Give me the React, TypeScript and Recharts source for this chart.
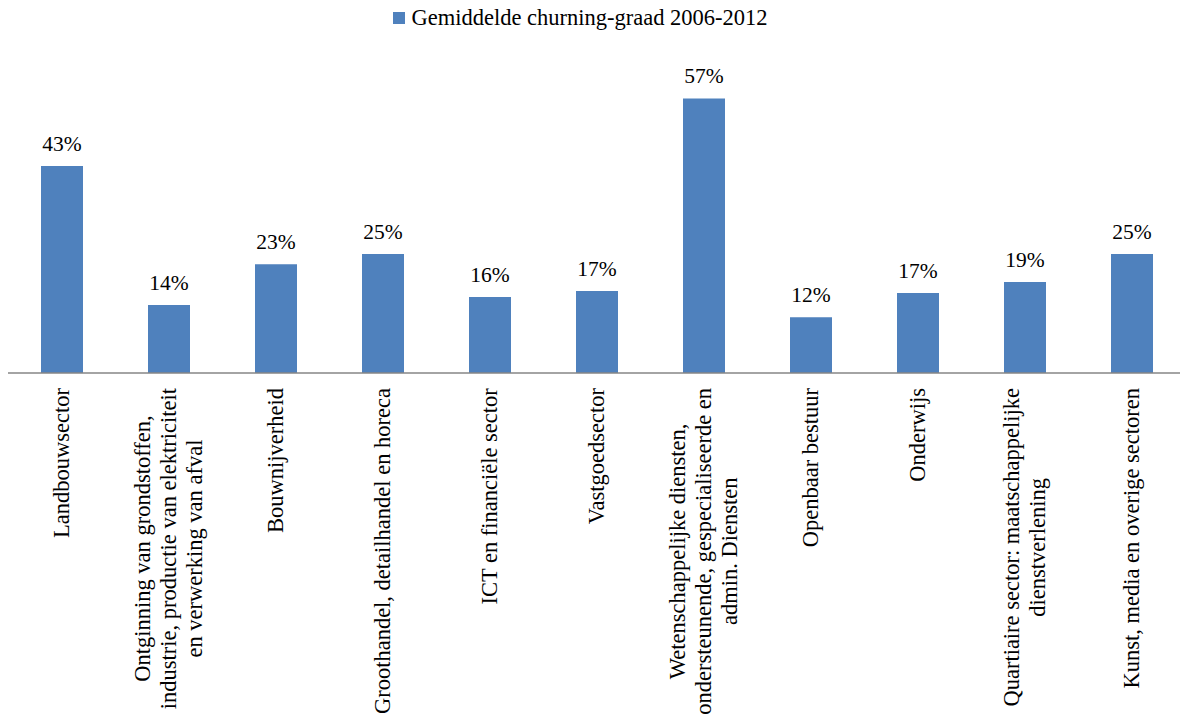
import { BarChart, Bar, XAxis, YAxis, Legend, LabelList } from "recharts";

const FONT = "'Liberation Serif', 'Times New Roman', serif";
const FONT_SIZE = 22.5;
const LABEL_SIZE = 21.5;
const BAR_COLOR = "#4f81bd";

const sectors = [
  "Landbouwsector",
  "Ontginning van grondstoffen,\nindustrie, productie van elektriciteit\nen verwerking van afval",
  "Bouwnijverheid",
  "Groothandel, detailhandel en horeca",
  "ICT en financiële sector",
  "Vastgoedsector",
  "Wetenschappelijke diensten,\nondersteunende, gespecialiseerde en\nadmin. Diensten",
  "Openbaar bestuur",
  "Onderwijs",
  "Quartiaire sector: maatschappelijke\ndienstverlening",
  "Kunst, media en overige sectoren",
];

const churnRates = [0.43, 0.141, 0.226, 0.247, 0.158, 0.17, 0.57, 0.116, 0.166, 0.189, 0.247];

const seriesName = "Gemiddelde churning-graad 2006-2012";

const data = sectors.map((sector, i) => ({ sector, churn: churnRates[i] }));

let ctx: CanvasRenderingContext2D | null = null;
const measure = (s: string) => {
  if (!ctx) ctx = document.createElement("canvas").getContext("2d");
  if (!ctx) return s.length * FONT_SIZE * 0.45;
  ctx.font = `${FONT_SIZE}px ${FONT}`;
  return ctx.measureText(s).width;
};

const SectorTick = (props: any) => {
  const { x, y, payload } = props;
  const lines: string[] = String(payload.value).split("\n");
  const blockWidth = Math.max(...lines.map(measure));
  const lineHeight = 26;
  return (
    <g transform={`translate(${x},${y}) rotate(-90)`}>
      <text textAnchor="middle" fontFamily={FONT} fontSize={FONT_SIZE} fill="#000">
        {lines.map((line, i) => (
          <tspan
            key={i}
            x={-blockWidth / 2}
            y={(i - (lines.length - 1) / 2) * lineHeight + FONT_SIZE * 0.35}
          >
            {line}
          </tspan>
        ))}
      </text>
    </g>
  );
};

const LegendBox = () => (
  <div
    style={{
      display: "flex",
      justifyContent: "center",
      alignItems: "center",
      height: 24,
      paddingRight: 19,
      fontFamily: FONT,
      fontSize: FONT_SIZE,
      color: "#000",
    }}
  >
    <span
      style={{ width: 12, height: 12, background: BAR_COLOR, marginRight: 6, display: "inline-block" }}
    />
    <span>{seriesName}</span>
  </div>
);

export default function App() {
  return (
    <div
      style={{
        position: "absolute",
        left: 0,
        top: 0,
        width: 1180,
        height: 724,
        overflow: "hidden",
        background: "#fff",
      }}
    >
      <BarChart
        width={1186}
        height={724}
        data={data}
        margin={{ top: 60, right: 1, left: 8, bottom: 0 }}
      >
        <XAxis
          dataKey="sector"
          height={351}
          interval={0}
          tickLine={false}
          tickSize={0}
          tickMargin={15}
          axisLine={{ stroke: "#868686", strokeWidth: 1.5 }}
          tick={<SectorTick />}
        />
        <YAxis hide domain={[0, 0.6]} />
        <Legend
          layout="vertical"
          align="center"
          verticalAlign="top"
          content={<LegendBox />}
          wrapperStyle={{ left: 0, top: 6, width: 1180 }}
        />
        <Bar dataKey="churn" name={seriesName} fill={BAR_COLOR} barSize={42} isAnimationActive={false}>
          <LabelList
            dataKey="churn"
            position="top"
            offset={15}
            fontFamily={FONT}
            fontSize={LABEL_SIZE}
            fill="#000"
            formatter={(v: any) => `${Math.round(Number(v) * 100)}%`}
          />
        </Bar>
      </BarChart>
    </div>
  );
}
